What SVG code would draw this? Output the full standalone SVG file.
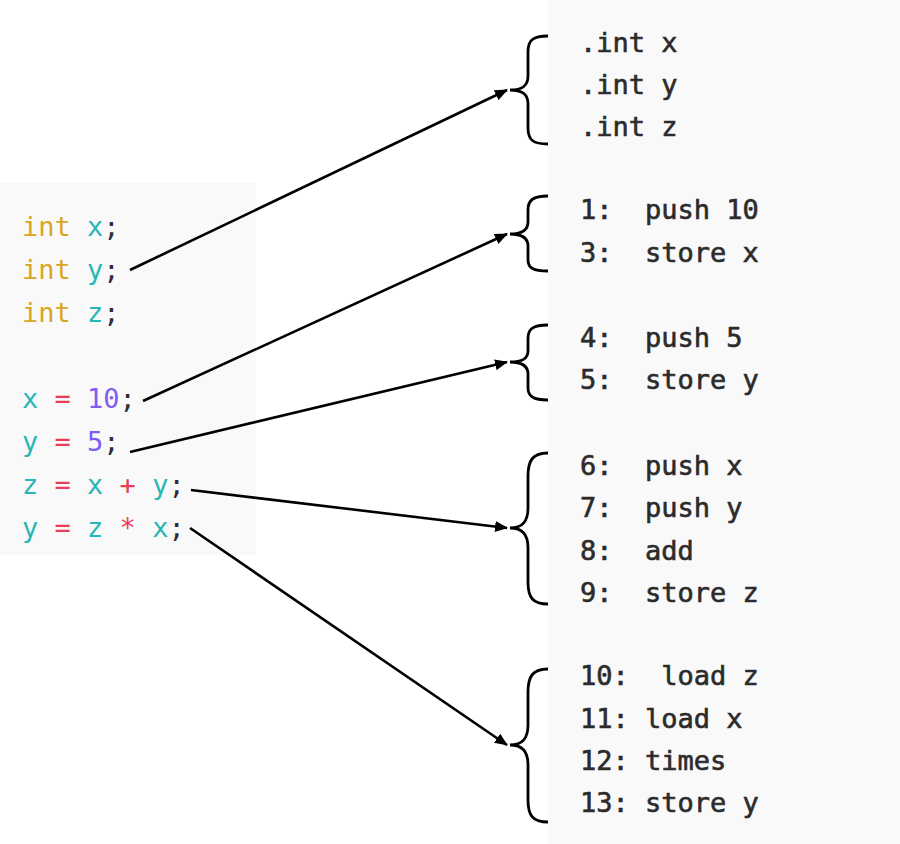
<svg xmlns="http://www.w3.org/2000/svg" width="900" height="844" viewBox="0 0 900 844">
<style>
.bg{fill:#f9f9f9}
.code{font-family:"DejaVu Sans Mono","Liberation Mono",monospace;font-size:27px;white-space:pre}
.asm{font-family:"DejaVu Sans Mono","Liberation Mono",monospace;font-size:27px;fill:#2b2b2b;stroke:#2b2b2b;stroke-width:0.6;white-space:pre}
.kw{fill:#d9a523}.id{fill:#27b6b6}.op{fill:#ea3e58}.num{fill:#7f5cf2}.pu{fill:#2b2b3a}
.brace{fill:none;stroke:#000;stroke-width:2.8}
.arrow{fill:none;stroke:#000;stroke-width:2.6;marker-end:url(#ah)}
</style>
<defs>
<marker id="ah" viewBox="0 0 13 11" refX="12" refY="5.5" markerWidth="13" markerHeight="11" markerUnits="userSpaceOnUse" orient="auto">
<path d="M0,0 L13,5.5 L0,11 Z" fill="#000"/>
</marker>
</defs>
<rect width="900" height="844" fill="#fff"/>
<g id="source">
<rect class="bg" x="0" y="183" width="256" height="372"/>
<text class="code" xml:space="preserve" x="22" y="236"><tspan class="kw">int</tspan> <tspan class="id">x</tspan><tspan class="pu">;</tspan></text>
<text class="code" xml:space="preserve" x="22" y="279"><tspan class="kw">int</tspan> <tspan class="id">y</tspan><tspan class="pu">;</tspan></text>
<text class="code" xml:space="preserve" x="22" y="322"><tspan class="kw">int</tspan> <tspan class="id">z</tspan><tspan class="pu">;</tspan></text>
<text class="code" xml:space="preserve" x="22" y="408"><tspan class="id">x</tspan> <tspan class="op">=</tspan> <tspan class="num">10</tspan><tspan class="pu">;</tspan></text>
<text class="code" xml:space="preserve" x="22" y="451"><tspan class="id">y</tspan> <tspan class="op">=</tspan> <tspan class="num">5</tspan><tspan class="pu">;</tspan></text>
<text class="code" xml:space="preserve" x="22" y="494"><tspan class="id">z</tspan> <tspan class="op">=</tspan> <tspan class="id">x</tspan> <tspan class="op">+</tspan> <tspan class="id">y</tspan><tspan class="pu">;</tspan></text>
<text class="code" xml:space="preserve" x="22" y="537"><tspan class="id">y</tspan> <tspan class="op">=</tspan> <tspan class="id">z</tspan> <tspan class="op">*</tspan> <tspan class="id">x</tspan><tspan class="pu">;</tspan></text>
</g>
<rect class="bg" x="548" y="0" width="352" height="844"/>
<g id="decl">
<path class="brace" d="M548,36 C533,36 528,40 528,52 L528,76 C528,86 522,90 510,90 C522,90 528,94 528,104 L528,128 C528,140 533,144 548,144"/>
<text class="asm" xml:space="preserve" x="580" y="52">.int x</text>
<text class="asm" xml:space="preserve" x="580" y="94">.int y</text>
<text class="asm" xml:space="preserve" x="580" y="136">.int z</text>
</g>
<g id="assign-x">
<path class="brace" d="M548,196 C533,196 528,200 528,210 L528,222 C528,230 522,234 510,234 C522,234 528,238 528,246 L528,260 C528,268 533,271 548,271"/>
<text class="asm" xml:space="preserve" x="580" y="219">1:  push 10</text>
<text class="asm" xml:space="preserve" x="580" y="262">3:  store x</text>
</g>
<g id="assign-y">
<path class="brace" d="M548,325 C533,325 528,329 528,338 L528,351 C528,359 522,362 510,362 C522,362 528,366 528,374 L528,388 C528,396 533,400 548,400"/>
<text class="asm" xml:space="preserve" x="580" y="347">4:  push 5</text>
<text class="asm" xml:space="preserve" x="580" y="389">5:  store y</text>
</g>
<g id="assign-z">
<path class="brace" d="M548,453 C533,453 528,460 528,476 L528,508 C528,522 522,528 510,528 C522,528 528,534 528,548 L528,582 C528,598 533,604 548,604"/>
<text class="asm" xml:space="preserve" x="580" y="475">6:  push x</text>
<text class="asm" xml:space="preserve" x="580" y="517">7:  push y</text>
<text class="asm" xml:space="preserve" x="580" y="560">8:  add</text>
<text class="asm" xml:space="preserve" x="580" y="602">9:  store z</text>
</g>
<g id="assign-y2">
<path class="brace" d="M548,669 C533,669 528,676 528,692 L528,725 C528,739 522,745 510,745 C522,745 528,751 528,765 L528,800 C528,816 533,822 548,822"/>
<text class="asm" xml:space="preserve" x="580" y="685">10:  load z</text>
<text class="asm" xml:space="preserve" x="580" y="728">11: load x</text>
<text class="asm" xml:space="preserve" x="580" y="770">12: times</text>
<text class="asm" xml:space="preserve" x="580" y="812">13: store y</text>
</g>
<g id="connectors">
<line class="arrow" x1="130" y1="270" x2="507" y2="90"/>
<line class="arrow" x1="143" y1="401" x2="507" y2="234"/>
<line class="arrow" x1="130" y1="452" x2="507" y2="362"/>
<line class="arrow" x1="191" y1="490" x2="507" y2="528"/>
<line class="arrow" x1="190" y1="528" x2="507" y2="745"/>
</g>
</svg>
